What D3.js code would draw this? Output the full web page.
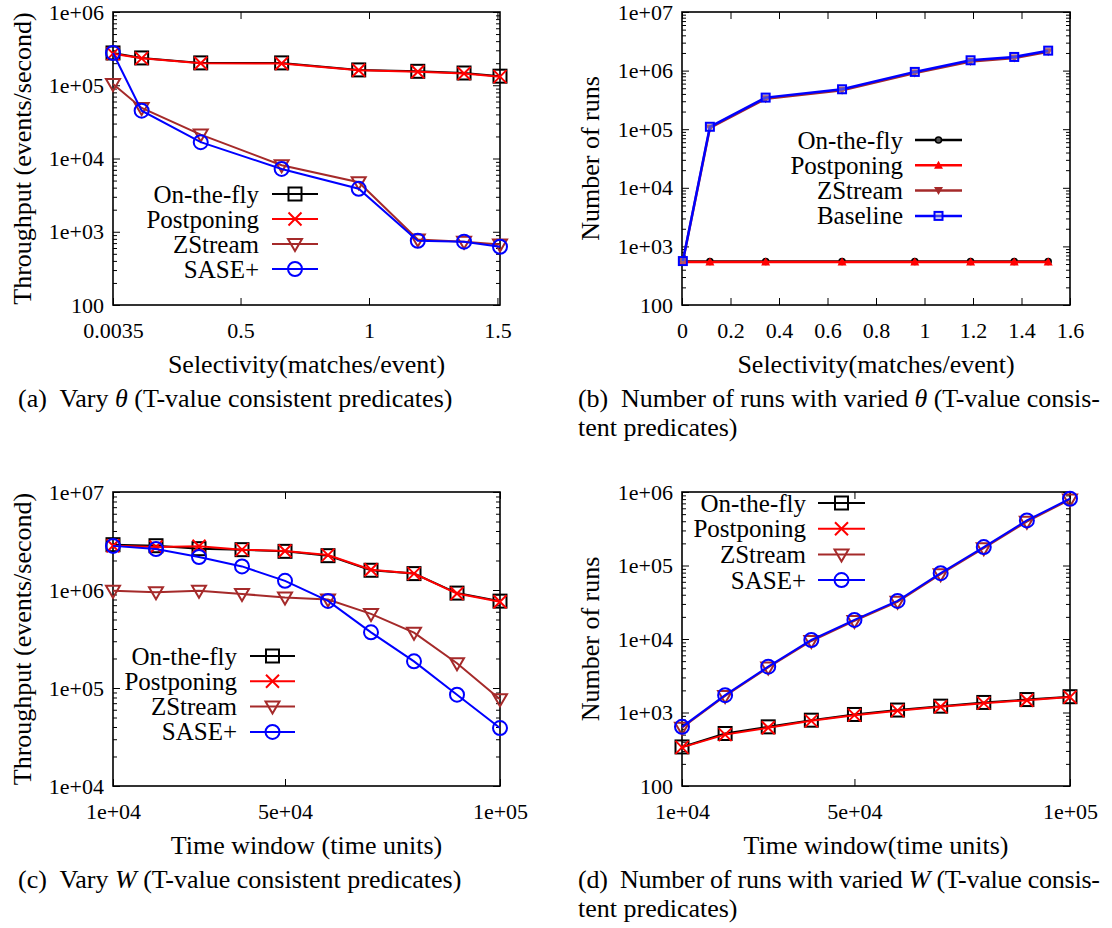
<!DOCTYPE html>
<html>
<head>
<meta charset="utf-8">
<script src="https://cdn.jsdelivr.net/npm/d3@7"></script>
<style>
  body { margin: 0; background: #fff; }
  svg { display: block; font-family: "Liberation Serif", "Times New Roman", serif; }
</style>
</head>
<body>
<svg id="chart" width="1112" height="928"></svg>
<script>
// selectivity experiments (panels a, b)
const selX = [0.0035, 0.115, 0.345, 0.66, 0.96, 1.19, 1.37, 1.51];
const tpSelOnTheFly = [2.76e5, 2.36e5, 2.02e5, 2.02e5, 1.62e5, 1.55e5, 1.47e5, 1.33e5];
const tpSelPostponing = [2.7e5, 2.33e5, 2.0e5, 1.98e5, 1.6e5, 1.53e5, 1.45e5, 1.31e5];
const tpSelZStream = [1.04e5, 4.9e4, 2.12e4, 8.1e3, 4.75e3, 785, 731, 672];
const tpSelSase = [2.76e5, 4.5e4, 1.67e4, 7.2e3, 3.86e3, 753, 731, 624];

const runsSelOnTheFly = [552, 552, 552, 552, 552, 552, 552, 552];
const runsSelPostponing = [540, 540, 540, 540, 540, 540, 540, 540];
const runsSelZStream = [556, 1.05e5, 3.3e5, 4.6e5, 9.1e5, 1.43e6, 1.64e6, 2.1e6];
const runsSelBaseline = [562, 1.1e5, 3.46e5, 4.8e5, 9.5e5, 1.5e6, 1.71e6, 2.19e6];

// time window experiments (panels c, d)
const winX = [1e4, 2e4, 3e4, 4e4, 5e4, 6e4, 7e4, 8e4, 9e4, 1e5];
const tpWinOnTheFly = [2.9e6, 2.83e6, 2.64e6, 2.58e6, 2.48e6, 2.24e6, 1.59e6, 1.47e6, 9.3e5, 7.7e5];
const tpWinPostponing = [2.83e6, 2.75e6, 2.79e6, 2.58e6, 2.5e6, 2.27e6, 1.61e6, 1.47e6, 9.2e5, 7.6e5];
const tpWinZStream = [9.85e5, 9.5e5, 9.85e5, 9.1e5, 8.4e5, 8.0e5, 5.7e5, 3.67e5, 1.79e5, 7.66e4];
const tpWinSase = [2.82e6, 2.62e6, 2.17e6, 1.74e6, 1.24e6, 7.73e5, 3.7e5, 1.87e5, 8.55e4, 3.9e4];

const runsWinOnTheFly = [340, 518, 638, 786, 940, 1080, 1220, 1370, 1500, 1640];
const runsWinPostponing = [335, 500, 620, 770, 920, 1060, 1200, 1340, 1470, 1620];
const runsWinZStream = [620, 1680, 4100, 9400, 1.76e4, 3.2e4, 7.6e4, 1.72e5, 3.95e5, 7.9e5];
const runsWinSase = [638, 1720, 4200, 9700, 1.82e4, 3.3e4, 7.86e4, 1.78e5, 4.1e5, 8.1e5];

// tick values and labels
const xTicksA = [0.0035, 0.5, 1, 1.5];
const xTickLabelsA = ["0.0035", "0.5", "1", "1.5"];
const xTicksB = [0, 0.2, 0.4, 0.6, 0.8, 1, 1.2, 1.4, 1.6];
const xTickLabelsB = ["0", "0.2", "0.4", "0.6", "0.8", "1", "1.2", "1.4", "1.6"];
const xTicksW = [1e4, 5e4, 1e5];
const xTickLabelsW = ["1e+04", "5e+04", "1e+05"];
const yTicks100to1e6 = [100, 1e3, 1e4, 1e5, 1e6];
const yTickLabels100to1e6 = ["100", "1e+03", "1e+04", "1e+05", "1e+06"];
const yTicks100to1e7 = [100, 1e3, 1e4, 1e5, 1e6, 1e7];
const yTickLabels100to1e7 = ["100", "1e+03", "1e+04", "1e+05", "1e+06", "1e+07"];
const yTicks1e4to1e7 = [1e4, 1e5, 1e6, 1e7];
const yTickLabels1e4to1e7 = ["1e+04", "1e+05", "1e+06", "1e+07"];

const names4 = ["On-the-fly", "Postponing", "ZStream", "SASE+"];
const namesB = ["On-the-fly", "Postponing", "ZStream", "Baseline"];
const colors = ["#000000", "#ff0000", "#a52a2a", "#0000ff"];

const svg = d3.select("#chart");
svg.append("rect").attr("width", 1112).attr("height", 928).attr("fill", "#fff");

function drawMarker(g, type, x, y, color) {
  if (type === "square") {
    g.append("rect").attr("x", x - 6.5).attr("y", y - 6.5).attr("width", 13).attr("height", 13)
      .attr("fill", "none").attr("stroke", color).attr("stroke-width", 2);
  } else if (type === "cross") {
    g.append("path").attr("d", `M${x - 6.5},${y - 6.5}L${x + 6.5},${y + 6.5}M${x - 6.5},${y + 6.5}L${x + 6.5},${y - 6.5}`)
      .attr("stroke", color).attr("stroke-width", 2);
  } else if (type === "tridown") {
    g.append("path").attr("d", `M${x - 7},${y - 5}L${x + 7},${y - 5}L${x},${y + 7}Z`)
      .attr("fill", "none").attr("stroke", color).attr("stroke-width", 2);
  } else if (type === "circle") {
    g.append("circle").attr("cx", x).attr("cy", y).attr("r", 7)
      .attr("fill", "none").attr("stroke", color).attr("stroke-width", 2);
  } else if (type === "dot") {
    g.append("circle").attr("cx", x).attr("cy", y).attr("r", 3)
      .attr("fill", "#555").attr("stroke", color).attr("stroke-width", 1.5);
  } else if (type === "triupfill") {
    g.append("path").attr("d", `M${x - 4.5},${y + 3.5}L${x + 4.5},${y + 3.5}L${x},${y - 4.5}Z`)
      .attr("fill", color);
  } else if (type === "tridownfill") {
    g.append("path").attr("d", `M${x - 4.5},${y - 3.5}L${x + 4.5},${y - 3.5}L${x},${y + 4.5}Z`)
      .attr("fill", color);
  } else if (type === "smallsquare") {
    g.append("rect").attr("x", x - 4).attr("y", y - 4).attr("width", 8).attr("height", 8)
      .attr("fill", "#aac").attr("fill-opacity", 0.4).attr("stroke", color).attr("stroke-width", 2);
  }
}

function drawPanel(p) {
  const g = svg.append("g");
  const x = d3.scaleLinear().domain(p.xDomain).range([p.l, p.r]);
  const y = d3.scaleLog().domain(p.yDomain).range([p.b, p.t]);

  // minor log ticks on both sides
  const minors = [];
  for (let d = p.yDomain[0]; d < p.yDomain[1]; d *= 10) {
    for (let k = 2; k <= 9; k++) minors.push(d * k);
  }
  const minorFmt = () => "";
  g.append("g").attr("transform", `translate(${p.l},0)`)
    .call(d3.axisLeft(y).tickValues(minors).tickSize(-4).tickFormat(minorFmt));
  g.append("g").attr("transform", `translate(${p.r},0)`)
    .call(d3.axisRight(y).tickValues(minors).tickSize(-4).tickFormat(minorFmt));

  // major ticks
  g.append("g").attr("transform", `translate(${p.l},0)`)
    .call(d3.axisLeft(y).tickValues(p.yTicks).tickSize(-7).tickPadding(9)
      .tickFormat((d, i) => p.yLabels[i]));
  g.append("g").attr("transform", `translate(${p.r},0)`)
    .call(d3.axisRight(y).tickValues(p.yTicks).tickSize(-7).tickFormat(minorFmt));
  g.append("g").attr("transform", `translate(0,${p.b})`)
    .call(d3.axisBottom(x).tickValues(p.xTicks).tickSize(-7).tickPadding(17)
      .tickFormat((d, i) => p.xLabels[i]));
  g.append("g").attr("transform", `translate(0,${p.t})`)
    .call(d3.axisTop(x).tickValues(p.xTicks).tickSize(-7).tickFormat(minorFmt));

  g.selectAll(".domain").remove();
  g.selectAll(".tick line").attr("stroke", "#000").attr("stroke-width", 1);
  g.selectAll(".tick text").attr("font-size", 22).attr("fill", "#000")
    .attr("font-family", "Liberation Serif");

  g.append("rect").attr("x", p.l).attr("y", p.t).attr("width", p.r - p.l).attr("height", p.b - p.t)
    .attr("fill", "none").attr("stroke", "#000").attr("stroke-width", 1.6);

  // series
  const line = d3.line().x(d => x(d[0])).y(d => y(d[1]));
  p.series.forEach((s, si) => {
    const pts = p.xs.map((v, i) => [v, s.values[i]]);
    g.append("path").datum(pts).attr("d", line).attr("fill", "none")
      .attr("stroke", colors[si]).attr("stroke-width", p.lw);
    pts.forEach(d => drawMarker(g, s.marker, x(d[0]), y(d[1]), colors[si]));
  });

  // legend
  p.series.forEach((s, si) => {
    const ly = p.legY + si * p.legGap;
    g.append("text").attr("x", p.legTextX).attr("y", ly).attr("dy", "0.34em")
      .attr("text-anchor", "end").attr("font-size", 25).text(s.name);
    g.append("line").attr("x1", p.legLine[0]).attr("x2", p.legLine[1])
      .attr("y1", ly).attr("y2", ly).attr("stroke", colors[si]).attr("stroke-width", p.lw);
    drawMarker(g, s.marker, (p.legLine[0] + p.legLine[1]) / 2, ly, colors[si]);
  });

  // axis titles
  g.append("text").attr("transform", `translate(${p.yTitleX},${(p.t + p.b) / 2}) rotate(-90)`)
    .attr("text-anchor", "middle").attr("font-size", 26).text(p.yTitle);
  g.append("text").attr("x", (p.l + p.r) / 2).attr("y", p.b + 68)
    .attr("text-anchor", "middle").attr("font-size", 26).text(p.xTitle);
}

const markers4 = ["square", "cross", "tridown", "circle"];
const markersB = ["dot", "triupfill", "tridownfill", "smallsquare"];

drawPanel({
  l: 113, r: 500, t: 12, b: 305, lw: 2,
  xDomain: [0.0035, 1.51], yDomain: [100, 1e6],
  xTicks: xTicksA, xLabels: xTickLabelsA, yTicks: yTicks100to1e6, yLabels: yTickLabels100to1e6,
  xs: selX,
  series: [tpSelOnTheFly, tpSelPostponing, tpSelZStream, tpSelSase]
    .map((v, i) => ({ name: names4[i], values: v, marker: markers4[i] })),
  legY: 194, legGap: 25, legTextX: 259, legLine: [272, 318],
  yTitle: "Throughput (events/second)", yTitleX: 31, xTitle: "Selectivity(matches/event)"
});

drawPanel({
  l: 682, r: 1070, t: 12, b: 305, lw: 2.5,
  xDomain: [0, 1.6], yDomain: [100, 1e7],
  xTicks: xTicksB, xLabels: xTickLabelsB, yTicks: yTicks100to1e7, yLabels: yTickLabels100to1e7,
  xs: selX,
  series: [runsSelOnTheFly, runsSelPostponing, runsSelZStream, runsSelBaseline]
    .map((v, i) => ({ name: namesB[i], values: v, marker: markersB[i] })),
  legY: 140, legGap: 25.3, legTextX: 903, legLine: [915, 962],
  yTitle: "Number of runs", yTitleX: 599, xTitle: "Selectivity(matches/event)"
});

drawPanel({
  l: 113, r: 500, t: 492, b: 786, lw: 2,
  xDomain: [1e4, 1e5], yDomain: [1e4, 1e7],
  xTicks: xTicksW, xLabels: xTickLabelsW, yTicks: yTicks1e4to1e7, yLabels: yTickLabels1e4to1e7,
  xs: winX,
  series: [tpWinOnTheFly, tpWinPostponing, tpWinZStream, tpWinSase]
    .map((v, i) => ({ name: names4[i], values: v, marker: markers4[i] })),
  legY: 656, legGap: 25.3, legTextX: 237, legLine: [250, 295],
  yTitle: "Throughput (events/second)", yTitleX: 31, xTitle: "Time window (time units)"
});

drawPanel({
  l: 682, r: 1070, t: 492, b: 786, lw: 2,
  xDomain: [1e4, 1e5], yDomain: [100, 1e6],
  xTicks: xTicksW, xLabels: xTickLabelsW, yTicks: yTicks100to1e6, yLabels: yTickLabels100to1e6,
  xs: winX,
  series: [runsWinOnTheFly, runsWinPostponing, runsWinZStream, runsWinSase]
    .map((v, i) => ({ name: names4[i], values: v, marker: markers4[i] })),
  legY: 503, legGap: 25.7, legTextX: 806, legLine: [818, 865],
  yTitle: "Number of runs", yTitleX: 599, xTitle: "Time window(time units)"
});

// captions
function caption(xPos, yPos, parts, width) {
  const t = svg.append("text").attr("x", xPos).attr("y", yPos).attr("font-size", 26)
    .attr("xml:space", "preserve");
  parts.forEach(pt => {
    const s = t.append("tspan").text(pt.s);
    if (pt.i) s.attr("font-style", "italic");
  });
  if (width) t.attr("textLength", width).attr("lengthAdjust", "spacing");
}
caption(18, 407, [{ s: "(a)  Vary " }, { s: "θ", i: true }, { s: " (T-value consistent predicates)" }]);
caption(578, 407, [{ s: "(b)  Number of runs with varied " }, { s: "θ", i: true }, { s: " (T-value consis-" }], 522);
caption(578, 436, [{ s: "tent predicates)" }]);
caption(18, 888, [{ s: "(c)  Vary " }, { s: "W", i: true }, { s: " (T-value consistent predicates)" }]);
caption(578, 888, [{ s: "(d)  Number of runs with varied " }, { s: "W", i: true }, { s: " (T-value consis-" }], 522);
caption(578, 917, [{ s: "tent predicates)" }]);
</script>
</body>
</html>
